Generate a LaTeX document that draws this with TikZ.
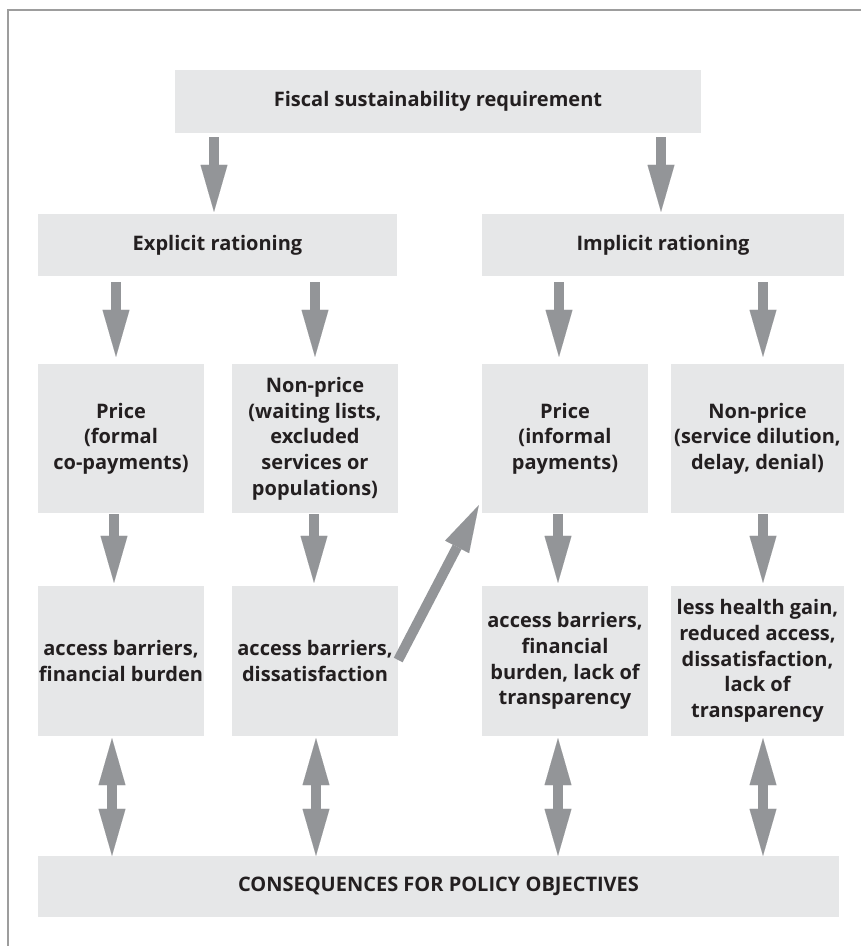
\documentclass[tikz,border=0pt]{standalone}
\usepackage{fontspec}
\setmainfont{Open Sans}
\usetikzlibrary{arrows.meta}
\definecolor{boxfill}{HTML}{E6E7E8}
\definecolor{arrowgray}{HTML}{939598}
\definecolor{txt}{HTML}{231F20}
\definecolor{framegray}{HTML}{9D9D9D}
\tikzset{
  box/.style={fill=boxfill, draw=none, inner sep=0pt, align=center, text=txt,
    font=\fontsize{20}{25.7}\selectfont\bfseries},
  arr/.style={draw=arrowgray, line width=10pt,
    -{Triangle[length=47pt,width=27pt,line width=0.01pt]}},
  dblarr/.style={draw=arrowgray, line width=10pt,
    {Triangle[length=47pt,width=27pt,line width=0.01pt]}-{Triangle[length=47pt,width=27pt,line width=0.01pt]}},
  framebar/.style={draw=framegray, line width=2pt}
}
\begin{document}
\begin{tikzpicture}[x=1pt,y=-1pt]
\useasboundingbox (0,0) rectangle (861,946);
\draw[framebar] (8,946) -- (8,10) -- (861,10);

% row 1
\node[box, minimum width=526pt, minimum height=63pt] (fiscal) at (438,101.5) {Fiscal sustainability requirement};
% row 2
\node[box, minimum width=359pt, minimum height=62pt] (expl) at (217.5,245) {Explicit rationing};
\node[box, minimum width=362pt, minimum height=62pt] (impl) at (663,245) {Implicit rationing};
% row 3
\node[box, minimum width=166pt, minimum height=149pt] (p1) at (121,438.5) {Price\\(formal\\co-payments)};
\node[box, minimum width=166pt, minimum height=149pt] (n1) at (315,438.5) {Non-price\\(waiting lists,\\excluded\\services or\\populations)};
\node[box, minimum width=166pt, minimum height=149pt] (p2) at (565,438.5) {Price\\(informal\\payments)};
\node[box, minimum width=173pt, minimum height=149pt] (n2) at (757.5,438.5) {Non-price\\(service dilution,\\delay, denial)};
% row 4
\node[box, minimum width=166pt, minimum height=150pt] (p1b) at (121,661) {access barriers,\\financial burden};
\node[box, minimum width=166pt, minimum height=150pt] (n1b) at (315,661) {access barriers,\\dissatisfaction};
\node[box, minimum width=166pt, minimum height=150pt] (p2b) at (565,661) {access barriers,\\financial\\burden, lack of\\transparency};
\node[box, minimum width=173pt, minimum height=150pt] (n2b) at (757.5,661) {less health gain,\\reduced access,\\dissatisfaction,\\lack of\\transparency};
% row 5
\node[box, minimum width=801pt, minimum height=61pt] (cons) at (438.5,886.5) {CONSEQUENCES FOR POLICY OBJECTIVES};

% arrows row 1 -> 2
\draw[arr] ([xshift=-224pt,yshift=-4pt]fiscal.south) -- ([xshift=-3.5pt,yshift=2pt]expl.north);
\draw[arr] ([xshift=223pt,yshift=-4pt]fiscal.south) -- ([xshift=-2pt,yshift=2pt]impl.north);
% arrows row 2 -> 3
\draw[arr] ([xshift=-101.5pt,yshift=-6pt]expl.south) -- ([xshift=-5pt,yshift=7pt]p1.north);
\draw[arr] ([xshift=97.5pt,yshift=-6pt]expl.south) -- ([yshift=7pt]n1.north);
\draw[arr] ([xshift=-104pt,yshift=-6pt]impl.south) -- ([xshift=-6pt,yshift=7pt]p2.north);
\draw[arr] ([xshift=100pt,yshift=-6pt]impl.south) -- ([xshift=5.5pt,yshift=7pt]n2.north);
% arrows row 3 -> 4
\draw[arr] ([xshift=-7pt,yshift=-1pt]p1.south) -- ([xshift=-7pt,yshift=3pt]p1b.north);
\draw[arr] ([xshift=-1pt,yshift=-1pt]n1.south) -- ([xshift=-1pt,yshift=3pt]n1b.north);
\draw[arr] ([xshift=-7pt,yshift=-1pt]p2.south) -- ([xshift=-7pt,yshift=3pt]p2b.north);
\draw[arr] ([xshift=5.5pt,yshift=-1pt]n2.south) -- ([xshift=5.5pt,yshift=3pt]n2b.north);
% diagonal
\draw[arr] ([yshift=1pt]n1b.east) -- ([xshift=-3pt,yshift=8pt]p2.south west);
% double arrows row 4 <-> 5
\draw[dblarr] ([xshift=-9pt,yshift=-2pt]p1b.south) -- ([xshift=-326.5pt]cons.north);
\draw[dblarr] ([xshift=1pt,yshift=-2pt]n1b.south) -- ([xshift=-122.5pt]cons.north);
\draw[dblarr] ([xshift=-7pt,yshift=-2pt]p2b.south) -- ([xshift=119.5pt]cons.north);
\draw[dblarr] ([xshift=5.5pt,yshift=-2pt]n2b.south) -- ([xshift=324.5pt]cons.north);
\end{tikzpicture}
\end{document}
